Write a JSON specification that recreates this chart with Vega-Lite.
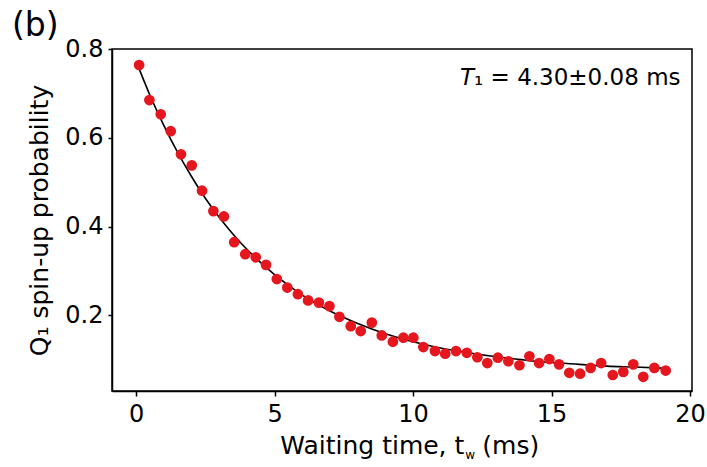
{
  "$schema": "https://vega.github.io/schema/vega-lite/v6.json",
  "width": 580,
  "height": 342,
  "autosize": {"type": "none"},
  "padding": {"left": 112, "top": 49, "right": 15, "bottom": 76},
  "background": "white",
  "config": {
    "font": "DejaVu Sans",
    "view": {"stroke": "black", "strokeWidth": 1.5},
    "axis": {
      "grid": false,
      "domainColor": "black",
      "domainWidth": 1.5,
      "tickColor": "black",
      "tickWidth": 1.5,
      "labelColor": "black",
      "titleColor": "black",
      "labelFont": "DejaVu Sans",
      "titleFont": "DejaVu Sans",
      "labelFontSize": 24,
      "titleFontSize": 25,
      "titleFontWeight": "normal"
    }
  },
  "title": {
    "text": "(b)",
    "anchor": "start",
    "frame": "group",
    "dx": -100,
    "dy": 12,
    "offset": 6,
    "fontSize": 33,
    "fontWeight": "normal",
    "font": "DejaVu Sans",
    "color": "black"
  },
  "datasets": {
    "points": [
      {"t": 0.11, "p": 0.764}, {"t": 0.48, "p": 0.685}, {"t": 0.89, "p": 0.653},
      {"t": 1.25, "p": 0.615}, {"t": 1.62, "p": 0.563}, {"t": 2.01, "p": 0.538},
      {"t": 2.38, "p": 0.481}, {"t": 2.79, "p": 0.435}, {"t": 3.17, "p": 0.423},
      {"t": 3.54, "p": 0.365}, {"t": 3.94, "p": 0.338}, {"t": 4.32, "p": 0.331},
      {"t": 4.69, "p": 0.314}, {"t": 5.08, "p": 0.282}, {"t": 5.46, "p": 0.263},
      {"t": 5.84, "p": 0.248}, {"t": 6.21, "p": 0.234}, {"t": 6.60, "p": 0.229},
      {"t": 6.98, "p": 0.221}, {"t": 7.34, "p": 0.197}, {"t": 7.75, "p": 0.176},
      {"t": 8.11, "p": 0.165}, {"t": 8.51, "p": 0.184}, {"t": 8.87, "p": 0.155},
      {"t": 9.27, "p": 0.141}, {"t": 9.65, "p": 0.150}, {"t": 10.01, "p": 0.150},
      {"t": 10.37, "p": 0.129}, {"t": 10.79, "p": 0.120}, {"t": 11.16, "p": 0.114},
      {"t": 11.55, "p": 0.120}, {"t": 11.94, "p": 0.116}, {"t": 12.32, "p": 0.106},
      {"t": 12.68, "p": 0.093}, {"t": 13.06, "p": 0.105}, {"t": 13.44, "p": 0.097},
      {"t": 13.84, "p": 0.088}, {"t": 14.20, "p": 0.108}, {"t": 14.55, "p": 0.093},
      {"t": 14.92, "p": 0.102}, {"t": 15.27, "p": 0.090}, {"t": 15.64, "p": 0.071},
      {"t": 16.03, "p": 0.069}, {"t": 16.41, "p": 0.082}, {"t": 16.79, "p": 0.093},
      {"t": 17.21, "p": 0.066}, {"t": 17.59, "p": 0.073}, {"t": 17.95, "p": 0.090},
      {"t": 18.31, "p": 0.062}, {"t": 18.71, "p": 0.082}, {"t": 19.12, "p": 0.076}
    ],
    "fit": [
      {"t": 0.1, "p": 0.757}, {"t": 0.5, "p": 0.696}, {"t": 1.0, "p": 0.628},
      {"t": 1.5, "p": 0.567}, {"t": 2.0, "p": 0.513}, {"t": 2.5, "p": 0.464},
      {"t": 3.0, "p": 0.421}, {"t": 3.5, "p": 0.383}, {"t": 4.0, "p": 0.349},
      {"t": 4.5, "p": 0.319}, {"t": 5.0, "p": 0.292}, {"t": 6.0, "p": 0.246},
      {"t": 7.0, "p": 0.210}, {"t": 8.0, "p": 0.182}, {"t": 9.0, "p": 0.159},
      {"t": 10.0, "p": 0.141}, {"t": 11.0, "p": 0.127}, {"t": 12.0, "p": 0.116},
      {"t": 13.0, "p": 0.107}, {"t": 14.0, "p": 0.100}, {"t": 15.0, "p": 0.094},
      {"t": 16.0, "p": 0.090}, {"t": 17.0, "p": 0.086}, {"t": 18.0, "p": 0.084},
      {"t": 19.2, "p": 0.081}
    ],
    "labels": [
      {"lx": 12.2, "ly": 0.719, "txt": "T", "kind": "t1it"},
      {"lx": 12.2, "ly": 0.719, "txt": "₁ = 4.30±0.08 ms", "kind": "t1"},
      {"lx": 11.85, "ly": -0.111, "txt": "Waiting time, t", "kind": "xt"},
      {"lx": 11.85, "ly": -0.111, "txt": "w", "kind": "xsub"},
      {"lx": 12.5, "ly": -0.111, "txt": "(ms)", "kind": "xms"}
    ]
  },
  "layer": [
    {
      "data": {"name": "fit"},
      "mark": {"type": "line", "color": "black", "strokeWidth": 1.6, "interpolate": "monotone"},
      "encoding": {
        "x": {
          "field": "t",
          "type": "quantitative",
          "scale": {"domain": [-0.87, 20.07], "nice": false, "zero": false},
          "axis": {"values": [0, 5, 10, 15, 20], "title": null, "tickSize": 5, "labelPadding": 6, "format": "d"}
        },
        "y": {
          "field": "p",
          "type": "quantitative",
          "scale": {"domain": [0.03, 0.8], "nice": false, "zero": false},
          "axis": {"values": [0.2, 0.4, 0.6, 0.8], "format": ".1f", "title": "Q₁ spin-up probability", "tickSize": 4, "labelPadding": 5, "titlePadding": 12}
        }
      }
    },
    {
      "data": {"name": "points"},
      "mark": {"type": "point", "filled": true, "shape": "circle", "color": "#e5161e", "opacity": 1, "size": 115},
      "encoding": {
        "x": {"field": "t", "type": "quantitative"},
        "y": {"field": "p", "type": "quantitative"}
      }
    },
    {
      "data": {"name": "labels"},
      "transform": [{"filter": "datum.kind === 't1it'"}],
      "mark": {"type": "text", "align": "right", "baseline": "alphabetic", "fontStyle": "italic", "fontSize": 23, "color": "black"},
      "encoding": {"x": {"field": "lx", "type": "quantitative"}, "y": {"field": "ly", "type": "quantitative"}, "text": {"field": "txt"}}
    },
    {
      "data": {"name": "labels"},
      "transform": [{"filter": "datum.kind === 't1'"}],
      "mark": {"type": "text", "align": "left", "baseline": "alphabetic", "fontSize": 23, "color": "black"},
      "encoding": {"x": {"field": "lx", "type": "quantitative"}, "y": {"field": "ly", "type": "quantitative"}, "text": {"field": "txt"}}
    },
    {
      "data": {"name": "labels"},
      "transform": [{"filter": "datum.kind === 'xt'"}],
      "mark": {"type": "text", "align": "right", "baseline": "alphabetic", "fontSize": 25, "color": "black"},
      "encoding": {"x": {"field": "lx", "type": "quantitative"}, "y": {"field": "ly", "type": "quantitative"}, "text": {"field": "txt"}}
    },
    {
      "data": {"name": "labels"},
      "transform": [{"filter": "datum.kind === 'xsub'"}],
      "mark": {"type": "text", "align": "left", "baseline": "alphabetic", "fontSize": 12, "dx": 1, "dy": 5, "color": "black"},
      "encoding": {"x": {"field": "lx", "type": "quantitative"}, "y": {"field": "ly", "type": "quantitative"}, "text": {"field": "txt"}}
    },
    {
      "data": {"name": "labels"},
      "transform": [{"filter": "datum.kind === 'xms'"}],
      "mark": {"type": "text", "align": "left", "baseline": "alphabetic", "fontSize": 25, "color": "black"},
      "encoding": {"x": {"field": "lx", "type": "quantitative"}, "y": {"field": "ly", "type": "quantitative"}, "text": {"field": "txt"}}
    }
  ]
}
